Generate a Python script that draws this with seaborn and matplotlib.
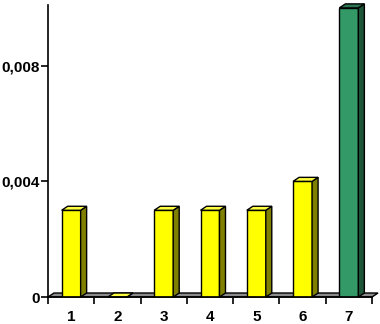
import matplotlib
matplotlib.use("Agg")
import matplotlib.pyplot as plt
from matplotlib.patches import Polygon
import pandas as pd
import seaborn as sns

# data
categories = ["1", "2", "3", "4", "5", "6", "7"]
values = [0.003, 0.0, 0.003, 0.003, 0.003, 0.004, 0.010]
front_colors = ["#FFFF00"] * 6 + ["#339966"]
side_colors = ["#808000"] * 6 + ["#1D5539"]
top_colors = ["#FFFF40"] * 6 + ["#2B7552"]
ytick_values = [0, 0.004, 0.008]
ytick_labels = ["0", "0,004", "0,008"]

DEPTH_PX = (6, 4)  # 3-D offset of the bars in pixels

sns.set_theme(style="white")
plt.rcParams["font.family"] = ["Liberation Sans", "DejaVu Sans"]

fig = plt.figure(figsize=(3.8, 3.24), dpi=100)
ax = fig.add_axes([0.1263, 0.0833, 0.8527, 0.9013])

df = pd.DataFrame({"cat": categories, "value": values})
sns.barplot(data=df, x="cat", y="value", hue="cat", palette=front_colors,
            legend=False, width=0.41, edgecolor="black", linewidth=1.0,
            saturation=1, ax=ax, zorder=3)

ax.set_xlim(-0.5, len(categories) - 0.5)
ax.set_ylim(0, 0.0101)

# convert pixel depth into data units
fig.canvas.draw()
x0, y0 = ax.transData.transform((0, 0))
x1, y1 = ax.transData.transform((1, 0.001))
dx = DEPTH_PX[0] / (x1 - x0)
dy = DEPTH_PX[1] / (y1 - y0) * 0.001

# floor
floor = Polygon([(-0.5, 0), (len(categories) - 0.5, 0),
                 (len(categories) - 0.5 + dx, dy), (-0.5 + dx, dy)],
                closed=True, facecolor="#8C8C8C", edgecolor="black",
                linewidth=1.0, zorder=2, clip_on=False)
ax.add_patch(floor)

# side and top faces for each bar
for bar, side_c, top_c in zip(ax.patches[:len(values)], side_colors, top_colors):
    bx, bw, bh = bar.get_x(), bar.get_width(), bar.get_height()
    side = Polygon([(bx + bw, 0), (bx + bw + dx, dy), (bx + bw + dx, bh + dy),
                    (bx + bw, bh)], closed=True, facecolor=side_c,
                   edgecolor="black", linewidth=1.0, zorder=3, clip_on=False)
    top = Polygon([(bx, bh), (bx + dx, bh + dy), (bx + bw + dx, bh + dy),
                   (bx + bw, bh)], closed=True, facecolor=top_c,
                  edgecolor="black", linewidth=1.0, zorder=3, clip_on=False)
    ax.add_patch(side)
    ax.add_patch(top)

# axes styling
for s in ["top", "right"]:
    ax.spines[s].set_visible(False)
for s in ["left", "bottom"]:
    ax.spines[s].set_color("black")
    ax.spines[s].set_linewidth(1.2)
    ax.spines[s].set_zorder(4)

ax.set_yticks(ytick_values)
ax.set_yticklabels(ytick_labels)
ax.set_xticks(range(len(categories)))
ax.set_xticklabels(categories)
ax.set_xticks([i - 0.5 for i in range(len(categories) + 1)], minor=True)
ax.tick_params(axis="x", which="major", length=0, pad=9, bottom=True)
ax.tick_params(axis="x", which="minor", length=5, width=1.2, color="black",
               direction="out", bottom=True)
ax.tick_params(axis="y", length=5, width=1.2, color="black", direction="out",
               left=True, pad=1)
for lab in ax.get_xticklabels() + ax.get_yticklabels():
    lab.set_fontweight("bold")
    lab.set_fontsize(11)
    lab.set_color("black")
ax.set_xlabel("")
ax.set_ylabel("")
ax.grid(False)

fig.savefig("out.png", dpi=100)
